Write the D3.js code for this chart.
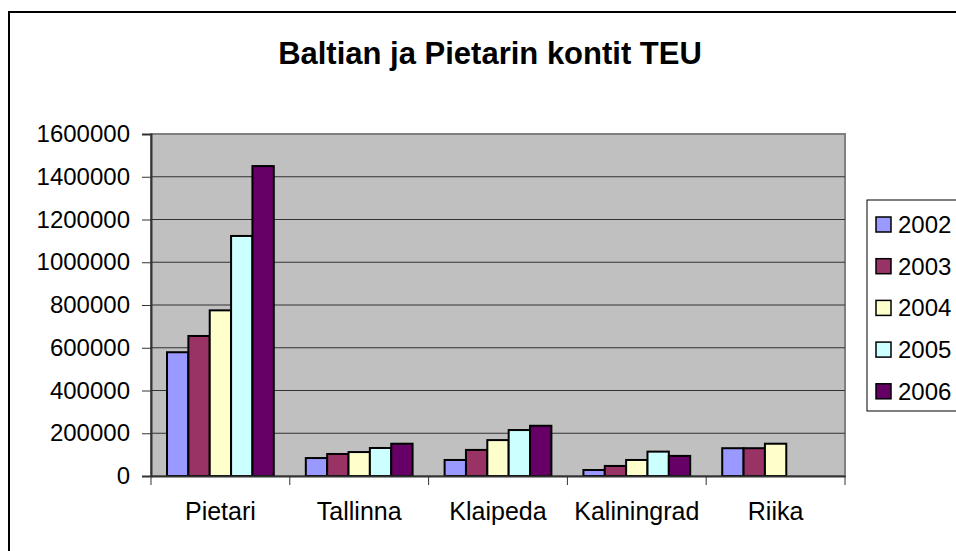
<!DOCTYPE html>
<html>
<head>
<meta charset="utf-8">
<script src="https://cdn.jsdelivr.net/npm/d3@7"></script>
<style>
  body { margin: 0; background: #fff; }
  svg { display: block; font-family: Arial, "Liberation Sans", sans-serif; }
</style>
</head>
<body>
<div id="chart"></div>
<script>
var categories = ["Pietari", "Tallinna", "Klaipeda", "Kaliningrad", "Riika"];
var years = ["2002", "2003", "2004", "2005", "2006"];
var values2002 = [579000, 84000, 75000, 28000, 130000];
var values2003 = [655000, 103000, 122000, 47000, 130000];
var values2004 = [775000, 112000, 168000, 75000, 151000];
var values2005 = [1123000, 131000, 215000, 114000, null];
var values2006 = [1450000, 151000, 235000, 94000, null];
var yTicks = [0, 200000, 400000, 600000, 800000, 1000000, 1200000, 1400000, 1600000];
var colors = ["#9999FF", "#993366", "#FFFFCC", "#CCFFFF", "#660066"];

var series = [values2002, values2003, values2004, values2005, values2006];

var width = 956, height = 551;
var plot = { left: 151, right: 845, top: 134, bottom: 476 };

var svg = d3.select("#chart").append("svg")
    .attr("width", width)
    .attr("height", height);

// chart area border (runs off the right and bottom edge)
svg.append("rect")
    .attr("x", 9).attr("y", 12)
    .attr("width", 1000).attr("height", 600)
    .attr("fill", "#fff")
    .attr("stroke", "#000")
    .attr("stroke-width", 2);

svg.append("text")
    .attr("x", 490).attr("y", 64)
    .attr("text-anchor", "middle")
    .style("font-size", "31px")
    .style("font-weight", "bold")
    .text("Baltian ja Pietarin kontit TEU");

var x = d3.scaleBand()
    .domain(categories)
    .range([plot.left, plot.right]);

var xInner = d3.scaleBand()
    .domain(years)
    .range([0, x.bandwidth()])
    .paddingOuter(0.75);

var y = d3.scaleLinear()
    .domain([0, 1600000])
    .range([plot.bottom, plot.top]);

// plot area
svg.append("rect")
    .attr("x", plot.left).attr("y", plot.top)
    .attr("width", plot.right - plot.left)
    .attr("height", plot.bottom - plot.top)
    .attr("fill", "#C0C0C0")
    .attr("stroke", "#808080")
    .attr("stroke-width", 2);

// gridlines
svg.append("g")
    .selectAll("line")
    .data(yTicks.slice(1, -1))
    .enter().append("line")
    .attr("x1", plot.left).attr("x2", plot.right)
    .attr("y1", function (d) { return y(d); })
    .attr("y2", function (d) { return y(d); })
    .attr("stroke", "#333")
    .attr("stroke-width", 1);

// bars
var group = svg.append("g")
    .selectAll("g")
    .data(series)
    .enter().append("g")
    .attr("fill", function (d, i) { return colors[i]; });

group.selectAll("rect")
    .data(function (d, i) {
        return d.map(function (v, j) { return { cat: categories[j], year: years[i], value: v }; })
            .filter(function (e) { return e.value != null; });
    })
    .enter().append("rect")
    .attr("x", function (d) { return x(d.cat) + xInner(d.year); })
    .attr("y", function (d) { return y(d.value); })
    .attr("width", xInner.bandwidth())
    .attr("height", function (d) { return plot.bottom - y(d.value); })
    .attr("stroke", "#000")
    .attr("stroke-width", 2);

// y axis
var yAxis = svg.append("g")
    .attr("transform", "translate(" + plot.left + ",0)")
    .call(d3.axisLeft(y).tickValues(yTicks).tickFormat(d3.format("d")).tickSize(9).tickPadding(12));
yAxis.select(".domain").attr("stroke", "#333").attr("stroke-width", 2);
yAxis.selectAll(".tick line").attr("stroke", "#333");
yAxis.selectAll(".tick text")
    .style("font-size", "24px")
    .style("font-family", "Arial, 'Liberation Sans', sans-serif")
    .attr("fill", "#000");

// x axis
var xAxis = svg.append("g")
    .attr("transform", "translate(0," + plot.bottom + ")")
    .call(d3.axisBottom(x).tickSize(0).tickPadding(26));
xAxis.select(".domain").attr("stroke", "#333").attr("stroke-width", 2);
xAxis.selectAll(".tick text")
    .style("font-size", "25px")
    .style("font-family", "Arial, 'Liberation Sans', sans-serif")
    .attr("fill", "#000");

// category separators
svg.append("g")
    .selectAll("line")
    .data(categories.concat(["end"]))
    .enter().append("line")
    .attr("x1", function (d, i) { return plot.left + i * x.step(); })
    .attr("x2", function (d, i) { return plot.left + i * x.step(); })
    .attr("y1", plot.bottom)
    .attr("y2", plot.bottom + 9)
    .attr("stroke", "#333")
    .attr("stroke-width", 1);

// legend
var legend = svg.append("g");
legend.append("rect")
    .attr("x", 867).attr("y", 200)
    .attr("width", 120).attr("height", 211)
    .attr("fill", "#fff")
    .attr("stroke", "#000")
    .attr("stroke-width", 1);

var item = legend.selectAll("g")
    .data(years)
    .enter().append("g")
    .attr("transform", function (d, i) { return "translate(876," + (224 + i * 41.7) + ")"; });

item.append("rect")
    .attr("x", 0).attr("y", -7)
    .attr("width", 15).attr("height", 15)
    .attr("fill", function (d, i) { return colors[i]; })
    .attr("stroke", "#000")
    .attr("stroke-width", 1.5);

item.append("text")
    .attr("x", 22).attr("y", 9)
    .style("font-size", "24px")
    .text(function (d) { return d; });
</script>
</body>
</html>
